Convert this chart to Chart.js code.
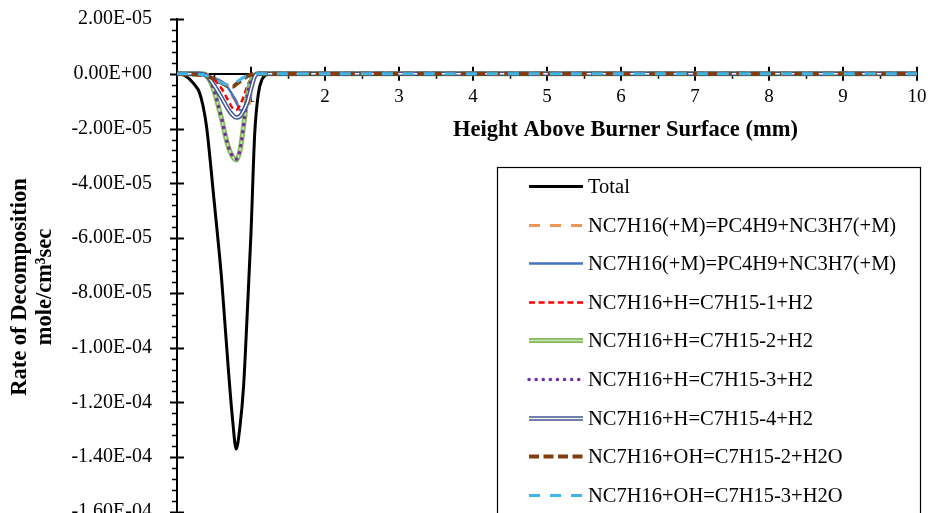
<!DOCTYPE html>
<html>
<head>
<meta charset="utf-8">
<script src="https://cdn.jsdelivr.net/npm/chart.js@4.4.1/dist/chart.umd.min.js"></script>
<style>
  html, body { margin: 0; padding: 0; overflow: hidden; background: #ffffff; }
  canvas { display: block; }
</style>
</head>
<body>
<canvas id="chart" width="928" height="523"></canvas>
<script>
// Height above the burner surface (mm)
const heights = [0, 0.05, 0.1, 0.15, 0.2, 0.25, 0.3, 0.35, 0.4, 0.45, 0.5, 0.55, 0.6, 0.65, 0.7, 0.75,
  0.8, 0.85, 0.9, 0.95, 1.0, 1.05, 1.1, 1.15, 1.2, 1.25, 1.3, 1.5, 2, 3, 4, 5, 6, 7, 8, 9, 10];

// Rate of decomposition (mole/cm3 sec) for each pathway
const total = [0, -1e-7, -6e-7, -1.5e-6, -2.8e-6, -4.4e-6, -6.6e-6, -1.15e-5, -1.94e-5, -3.2e-5, -4.6e-5,
  -5.95e-5, -7.4e-5, -9.2e-5, -1.1e-4, -1.26e-4, -1.37e-4, -1.29e-4, -1.14e-4, -8.7e-5, -5.8e-5, -2.2e-5,
  -7.2e-6, -2e-6, -5e-7, -1e-7, 0, 0, 0, 0, 0, 0, 0, 0, 0, 0, 0];
const fallOffA = [0, 0, 0, 0, 0, 0, 0, 0, -2e-7, -6e-7, -1.2e-6, -2e-6, -3e-6, -4.1e-6, -5.5e-6, -8e-6,
  -1.05e-5, -1.35e-5, -1.63e-5, -1.4e-5, -7.5e-6, -1.2e-6, 0, 0, 0, 0, 0, 0, 0, 0, 0, 0, 0, 0, 0, 0, 0];
const fallOffB = [0, 0, 0, 0, 0, 0, -1e-7, -3e-7, -6e-7, -1e-6, -1.5e-6, -2.1e-6, -2.8e-6, -3.8e-6, -5.5e-6,
  -7.8e-6, -1.0e-5, -1.33e-5, -1.35e-5, -8.5e-6, -4e-6, -7e-7, 0, 0, 0, 0, 0, 0, 0, 0, 0, 0, 0, 0, 0, 0, 0];
const hAbstr1 = [0, 0, 0, 0, 0, 0, 0, 0, -4e-7, -1.1e-6, -2.1e-6, -3.5e-6, -5.3e-6, -7.6e-6, -1.02e-5, -1.25e-5,
  -1.32e-5, -1.15e-5, -8.4e-6, -4.5e-6, -1.8e-6, -3e-7, 0, 0, 0, 0, 0, 0, 0, 0, 0, 0, 0, 0, 0, 0, 0];
const hAbstr2 = [0, 0, 0, 0, 0, 0, 0, 0, -6e-7, -2.8e-6, -6.2e-6, -1.1e-5, -1.62e-5, -2.22e-5, -2.72e-5, -3.02e-5,
  -3.15e-5, -2.82e-5, -1.9e-5, -8.2e-6, -2.6e-6, -4e-7, 0, 0, 0, 0, 0, 0, 0, 0, 0, 0, 0, 0, 0, 0, 0];
const hAbstr3 = [0, 0, 0, 0, 0, 0, 0, 0, -5e-7, -2.6e-6, -6e-6, -1.08e-5, -1.6e-5, -2.2e-5, -2.7e-5, -3e-5,
  -3.12e-5, -2.8e-5, -1.88e-5, -8e-6, -2.5e-6, -4e-7, 0, 0, 0, 0, 0, 0, 0, 0, 0, 0, 0, 0, 0, 0, 0];
const hAbstr4 = [0, 0, 0, 0, 0, 0, 0, -2e-7, -8e-7, -2.2e-6, -4.2e-6, -6.3e-6, -8.6e-6, -1.1e-5, -1.33e-5, -1.5e-5,
  -1.6e-5, -1.55e-5, -1.35e-5, -1.05e-5, -5.5e-6, -1e-6, 0, 0, 0, 0, 0, 0, 0, 0, 0, 0, 0, 0, 0, 0, 0];
const ohAbstr2 = [0, 0, -1e-7, -2e-7, -2e-7, -3e-7, -4e-7, -5e-7, -8e-7, -1.3e-6, -1.9e-6, -2.6e-6, -3.3e-6, -4e-6,
  -4.6e-6, -4.7e-6, -3.8e-6, -2.8e-6, -1.8e-6, -9e-7, -3e-7, -1e-7, 0, 0, 0, 0, 0, 0, 0, 0, 0, 0, 0, 0, 0, 0, 0];
const ohAbstr3 = [0, 0, 0, 0, 0, 0, -2e-7, -4e-7, -7e-7, -1.2e-6, -1.8e-6, -2.5e-6, -3.2e-6, -3.8e-6, -4.2e-6, -4e-6,
  -3.2e-6, -2.2e-6, -1.3e-6, -6e-7, -2e-7, 0, 0, 0, 0, 0, 0, 0, 0, 0, 0, 0, 0, 0, 0, 0, 0];

const seriesLabels = [
  'Total',
  'NC7H16(+M)=PC4H9+NC3H7(+M)',
  'NC7H16(+M)=PC4H9+NC3H7(+M)',
  'NC7H16+H=C7H15-1+H2',
  'NC7H16+H=C7H15-2+H2',
  'NC7H16+H=C7H15-3+H2',
  'NC7H16+H=C7H15-4+H2',
  'NC7H16+OH=C7H15-2+H2O',
  'NC7H16+OH=C7H15-3+H2O'
];
const seriesValues = [total, fallOffA, fallOffB, hAbstr1, hAbstr2, hAbstr3, hAbstr4, ohAbstr2, ohAbstr3];

// Axis tick labels
const xTickLabels = ['', '1', '2', '3', '4', '5', '6', '7', '8', '9', '10'];
const xTitle = 'Height Above Burner Surface (mm)';
const yTitleLines = ['Rate of Decomposition', 'mole/cm\u00B3sec'];

// Line styling per series
const seriesStyle = [
  { color: '#000000', width: 3, dash: [] },
  { color: '#F0955A', width: 3, dash: [11, 10] },
  { color: '#4472C4', width: 2.5, dash: [] },
  { color: '#FF0000', width: 2.5, dash: [6, 3.6] },
  { color: '#86BA5E', width: 5, dash: [], inner: { color: '#CBE4B8', width: 1.5 } },
  { color: '#7030A0', width: 3.5, dash: [0.1, 7], cap: 'round' },
  { color: '#3E5590', width: 4.5, dash: [], inner: { color: '#FFFFFF', width: 1.5 } },
  { color: '#843C0C', width: 4, dash: [10, 4.5] },
  { color: '#3DB7EA', width: 3, dash: [11, 10] }
];

const FONT = "'Liberation Serif', 'Times New Roman', serif";

function sciLabel(v) {
  if (Math.abs(v) < 1e-12) return '0.00E+00';
  const parts = v.toExponential(2).split('e');
  const e = parseInt(parts[1], 10);
  return parts[0] + 'E' + (e < 0 ? '-' : '+') + String(Math.abs(e)).padStart(2, '0');
}

const datasets = seriesValues.map((vals, i) => {
  const st = seriesStyle[i];
  return {
    label: seriesLabels[i],
    data: heights.map((h, k) => ({ x: h, y: vals[k] })),
    borderColor: st.color,
    borderWidth: st.width,
    borderDash: st.dash,
    borderCapStyle: st.cap || 'butt',
    borderJoinStyle: 'round',
    pointRadius: 0,
    fill: false,
    cubicInterpolationMode: 'monotone',
    order: seriesValues.length - i
  };
});

// Light inner stroke that turns a line into a compound (double) line
const compoundLines = {
  id: 'compoundLines',
  afterDatasetDraw(chart, args) {
    const st = seriesStyle[args.index];
    if (!st || !st.inner) return;
    const ctx = chart.ctx, a = chart.chartArea;
    ctx.save();
    ctx.beginPath();
    ctx.rect(a.left, a.top - 3, a.right - a.left, a.bottom - a.top + 6);
    ctx.clip();
    ctx.beginPath();
    args.meta.dataset.path(ctx);
    ctx.strokeStyle = st.inner.color;
    ctx.lineWidth = st.inner.width;
    ctx.lineJoin = 'round';
    ctx.setLineDash([]);
    ctx.stroke();
    ctx.restore();
  }
};

// Cross tick marks on both axes, with minor ticks
const axisMarks = {
  id: 'axisMarks',
  beforeDatasetsDraw(chart) {
    const ctx = chart.ctx;
    const xs = chart.scales.x, ys = chart.scales.y;
    const x0 = xs.getPixelForValue(0);
    const y0 = ys.getPixelForValue(0);
    ctx.save();
    ctx.strokeStyle = '#000000';
    for (let i = 0; i <= 45; i++) {
      const v = ys.min + i * (ys.max - ys.min) / 45;
      const p = Math.round(ys.getPixelForValue(v)) + 0.5;
      ctx.beginPath();
      if (i % 5 === 0) { ctx.lineWidth = 2; ctx.moveTo(x0 - 7, p); ctx.lineTo(x0 + 7, p); }
      else { ctx.lineWidth = 1.5; ctx.moveTo(x0 - 5, p); ctx.lineTo(x0, p); }
      ctx.stroke();
    }
    for (let i = 0; i <= 20; i++) {
      const v = xs.min + i * (xs.max - xs.min) / 20;
      const p = Math.round(xs.getPixelForValue(v));
      ctx.beginPath();
      if (i % 2 === 0) { ctx.lineWidth = 2; ctx.moveTo(p, y0 - 7); ctx.lineTo(p, y0 + 7); }
      else { ctx.lineWidth = 1.5; ctx.moveTo(p + 0.5, y0); ctx.lineTo(p + 0.5, y0 + 5); }
      ctx.stroke();
    }
    ctx.restore();
  }
};

// Axis titles and the boxed legend
const annotations = {
  id: 'annotations',
  afterDraw(chart) {
    const ctx = chart.ctx, a = chart.chartArea;
    ctx.save();
    ctx.fillStyle = '#000000';
    ctx.font = 'bold 22.5px ' + FONT;
    ctx.textAlign = 'center';
    ctx.textBaseline = 'middle';
    ctx.fillText(xTitle, a.left + 0.606 * (a.right - a.left), 130);

    ctx.save();
    ctx.translate(20, 287);
    ctx.rotate(-Math.PI / 2);
    ctx.fillText(yTitleLines[0], 0, 0);
    ctx.fillText(yTitleLines[1], 0, 25);
    ctx.restore();

    // legend
    const bx = 497.5, by = 167.5, bw = 423, bh = 380;
    ctx.fillStyle = '#ffffff';
    ctx.fillRect(bx, by, bw, bh);
    ctx.strokeStyle = '#000000';
    ctx.lineWidth = 1.2;
    ctx.strokeRect(bx, by, bw, bh);
    ctx.font = '20.5px ' + FONT;
    ctx.textAlign = 'left';
    seriesLabels.forEach((lab, i) => {
      const st = seriesStyle[i];
      const y = Math.round(186 + i * 38.6) + 0.5;
      ctx.beginPath();
      ctx.moveTo(529, y);
      ctx.lineTo(583, y);
      ctx.strokeStyle = st.color;
      ctx.lineWidth = st.width;
      ctx.lineCap = st.cap || 'butt';
      ctx.setLineDash(st.dash);
      ctx.stroke();
      if (st.inner) {
        ctx.beginPath();
        ctx.moveTo(529, y);
        ctx.lineTo(583, y);
        ctx.strokeStyle = st.inner.color;
        ctx.lineWidth = st.inner.width;
        ctx.setLineDash([]);
        ctx.stroke();
      }
      ctx.setLineDash([]);
      ctx.lineCap = 'butt';
      ctx.fillStyle = '#000000';
      ctx.fillText(lab, 588, y + 1);
    });
    ctx.restore();
  }
};

new Chart(document.getElementById('chart'), {
  type: 'line',
  data: { datasets },
  options: {
    responsive: false,
    animation: false,
    events: [],
    layout: { padding: 0 },
    plugins: { legend: { display: false }, tooltip: { enabled: false } },
    scales: {
      x: {
        type: 'linear',
        position: { y: 0 },
        min: 0, max: 10,
        afterFit: (s) => { s.height = 0; s.paddingLeft = 0; s.paddingRight = 11; s.paddingTop = 0; s.paddingBottom = 0; },
        grid: { display: false, drawTicks: false },
        border: { display: true, color: '#000000', width: 2 },
        ticks: {
          stepSize: 1,
          autoSkip: false,
          maxRotation: 0,
          padding: 12,
          color: '#000000',
          font: { family: FONT, size: 19 },
          callback: (v) => xTickLabels[Math.round(v)] ?? ''
        }
      },
      y: {
        type: 'linear',
        min: -1.6e-4, max: 2e-5,
        afterFit: (s) => { s.width = 177; s.paddingTop = 19; s.paddingBottom = 11; s.paddingLeft = 0; s.paddingRight = 0; },
        grid: { display: false, drawTicks: false },
        border: { display: true, color: '#000000', width: 2 },
        ticks: {
          stepSize: 2e-5,
          autoSkip: false,
          padding: 25,
          color: '#000000',
          font: { family: FONT, size: 20 },
          callback: (v) => sciLabel(v)
        }
      }
    }
  },
  plugins: [compoundLines, axisMarks, annotations]
});
</script>
</body>
</html>
